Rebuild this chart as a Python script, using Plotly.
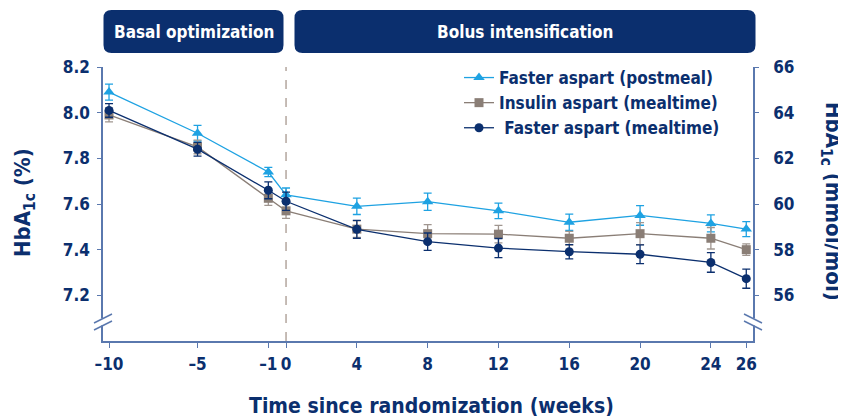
import plotly.graph_objects as go

# ---------------- data ----------------
weeks = [-10, -5, -1, 0, 4, 8, 12, 16, 20, 24, 26]
week_labels = ["–10", "–5", "–1", "0", "4", "8", "12", "16", "20", "24", "26"]

faster_postmeal = [8.09, 7.91, 7.74, 7.64, 7.59, 7.61, 7.57, 7.52, 7.55, 7.515, 7.49]
faster_postmeal_err = [0.035, 0.034, 0.02, 0.03, 0.036, 0.038, 0.034, 0.036, 0.043, 0.037, 0.033]

insulin_aspart = [7.99, 7.85, 7.625, 7.57, 7.49, 7.47, 7.468, 7.45, 7.47, 7.45, 7.40]
insulin_aspart_err = [0.03, 0.03, 0.031, 0.033, 0.036, 0.04, 0.038, 0.03, 0.048, 0.047, 0.025]

faster_mealtime = [8.01, 7.84, 7.66, 7.612, 7.489, 7.435, 7.407, 7.391, 7.38, 7.344, 7.273]
faster_mealtime_err = [0.03, 0.03, 0.037, 0.04, 0.039, 0.038, 0.042, 0.031, 0.041, 0.043, 0.042]

pct_ticks = [7.2, 7.4, 7.6, 7.8, 8.0, 8.2]
mmol_ticks = [56, 58, 60, 62, 64, 66]

series_names = ["Faster aspart (postmeal)", "Insulin aspart (mealtime)", " Faster aspart (mealtime)"]
phase_labels = ["Basal optimization", "Bolus intensification"]

# ---------------- style ----------------
NAVY = "#0b2f6e"
LBLUE = "#1ea2e2"
GRAY = "#8a7e76"
GRAY_ERR = "#a09690"
AXIS = "#5a78ae"
FONT = "DejaVu Sans Condensed, DejaVu Sans, sans-serif"

# page body has an 8px margin: figure placed at (8, 8)
OFF = 8
PAGE_W, PAGE_H = 846, 419
W, H = PAGE_W - OFF, PAGE_H - OFF
L, R, T, B = 103, 753, 67, 341  # plot area in page px


def px(x):
    return (x - L) / (R - L)


def py(y):
    return (B - y) / (B - T)


fig = go.Figure()

specs = [
    (faster_postmeal, faster_postmeal_err, LBLUE, LBLUE, "triangle-up", 10),
    (insulin_aspart, insulin_aspart_err, GRAY, GRAY_ERR, "square", 9),
    (faster_mealtime, faster_mealtime_err, NAVY, NAVY, "circle", 9),
]
for name, (vals, errs, col, ecol, sym, size) in zip(series_names, specs):
    fig.add_trace(go.Scatter(
        x=weeks, y=vals, name=name, mode="lines+markers",
        line=dict(color=col, width=1.3),
        marker=dict(color=col, symbol=sym, size=size, line=dict(width=0)),
        error_y=dict(type="data", array=errs, color=ecol, thickness=1.3, width=4),
    ))

# carrier for right axis
fig.add_trace(go.Scatter(x=[None], y=[None], yaxis="y2", showlegend=False, hoverinfo="skip"))

tickfont = dict(family=FONT, size=17, color=NAVY, weight="bold")
fig.update_layout(
    width=W, height=H,
    margin=dict(l=L - OFF, r=PAGE_W - R, t=T - OFF, b=PAGE_H - B, pad=0),
    paper_bgcolor="white", plot_bgcolor="white",
    font=dict(family=FONT, color=NAVY),
    showlegend=True,
    legend=dict(
        x=px(459), y=py(60), xanchor="left", yanchor="top",
        bgcolor="rgba(0,0,0,0)", borderwidth=0,
        font=dict(family=FONT, size=17, color=NAVY, weight="bold"),
        itemwidth=30, tracegroupgap=0,
    ),
    xaxis=dict(
        range=[-10.34, 26.38], tickmode="array", tickvals=weeks, ticktext=week_labels,
        showgrid=False, zeroline=False, showline=True, linecolor=AXIS, linewidth=1.5,
        ticks="outside", ticklen=5, tickwidth=1.3, tickcolor=AXIS, tickangle=0,
        tickfont=tickfont, ticklabelstandoff=2,
    ),
    yaxis=dict(
        range=[7.0, 8.2], tickmode="array", tickvals=pct_ticks,
        ticktext=[f"{v:.1f}" for v in pct_ticks],
        showgrid=False, zeroline=False, showline=True, linecolor=AXIS, linewidth=1.5,
        ticks="outside", ticklen=4, tickwidth=1.3, tickcolor=AXIS,
        tickfont=tickfont, ticklabelstandoff=4,
    ),
    yaxis2=dict(
        range=[54, 66], overlaying="y", side="right", tickmode="array",
        tickvals=mmol_ticks, showgrid=False, zeroline=False, showline=True,
        linecolor=AXIS, linewidth=1.5, ticks="outside", ticklen=4, tickwidth=1.3,
        tickcolor=AXIS, tickfont=tickfont, ticklabelstandoff=11,
    ),
)

shapes = []
# dashed randomization line
shapes.append(dict(type="line", xref="x", yref="paper", x0=0, x1=0, y0=0, y1=1,
                   line=dict(color="#a08f85", width=1.2, dash="dash"), layer="below"))


def rounded_box(x0, x1, y0, y1, r=8):
    X = lambda v: px(v)
    Y = lambda v: py(v)
    p = (f"M{X(x0 + r)},{Y(y0)} L{X(x1 - r)},{Y(y0)} Q{X(x1)},{Y(y0)} {X(x1)},{Y(y0 + r)} "
         f"L{X(x1)},{Y(y1 - r)} Q{X(x1)},{Y(y1)} {X(x1 - r)},{Y(y1)} "
         f"L{X(x0 + r)},{Y(y1)} Q{X(x0)},{Y(y1)} {X(x0)},{Y(y1 - r)} "
         f"L{X(x0)},{Y(y0 + r)} Q{X(x0)},{Y(y0)} {X(x0 + r)},{Y(y0)} Z")
    return dict(type="path", xref="paper", yref="paper", path=p,
                fillcolor=NAVY, line=dict(width=0))


boxes = [(103.5, 283.5), (294.5, 755.5)]
for (bx0, bx1) in boxes:
    shapes.append(rounded_box(bx0, bx1, 10, 53))

# axis break marks
for (ax, sign) in [(L, 1), (R, -1)]:
    shapes.append(dict(type="line", xref="paper", yref="paper",
                       x0=px(ax), x1=px(ax), y0=py(318.5), y1=py(325.5),
                       line=dict(color="white", width=4)))
    for dy in (0, 7):
        shapes.append(dict(type="line", xref="paper", yref="paper",
                           x0=px(ax - 9), x1=px(ax + 9),
                           y0=py(323 + dy + (0 if sign > 0 else -9)),
                           y1=py(314 + dy + (0 if sign > 0 else 9)),
                           line=dict(color=AXIS, width=1.4)))
fig.update_layout(shapes=shapes)

ann = []
for label, (bx0, bx1) in zip(phase_labels, boxes):
    ann.append(dict(x=px((bx0 + bx1) / 2), y=py(31.5), xref="paper", yref="paper",
                    xanchor="center", yanchor="middle",
                    text=label, showarrow=False,
                    font=dict(family=FONT, size=17, color="white", weight="bold")))
ann.append(dict(x=px(24), y=py(203), xref="paper", yref="paper", textangle=-90,
                xanchor="center", yanchor="middle",
                text="HbA<sub>1c</sub> (%)", showarrow=False,
                font=dict(family=FONT, size=22, color=NAVY, weight="bold")))
ann.append(dict(x=px(832), y=py(201), xref="paper", yref="paper", textangle=90,
                xanchor="center", yanchor="middle",
                text="HbA<sub>1c</sub> (mmol/mol)", showarrow=False,
                font=dict(family=FONT, size=22, color=NAVY, weight="bold")))
ann.append(dict(x=px(431), y=py(406), xref="paper", yref="paper",
                xanchor="center", yanchor="middle",
                text="Time since randomization (weeks)", showarrow=False,
                font=dict(family=FONT, size=21, color=NAVY, weight="bold")))
fig.update_layout(annotations=ann)

fig.write_html("out.html")
